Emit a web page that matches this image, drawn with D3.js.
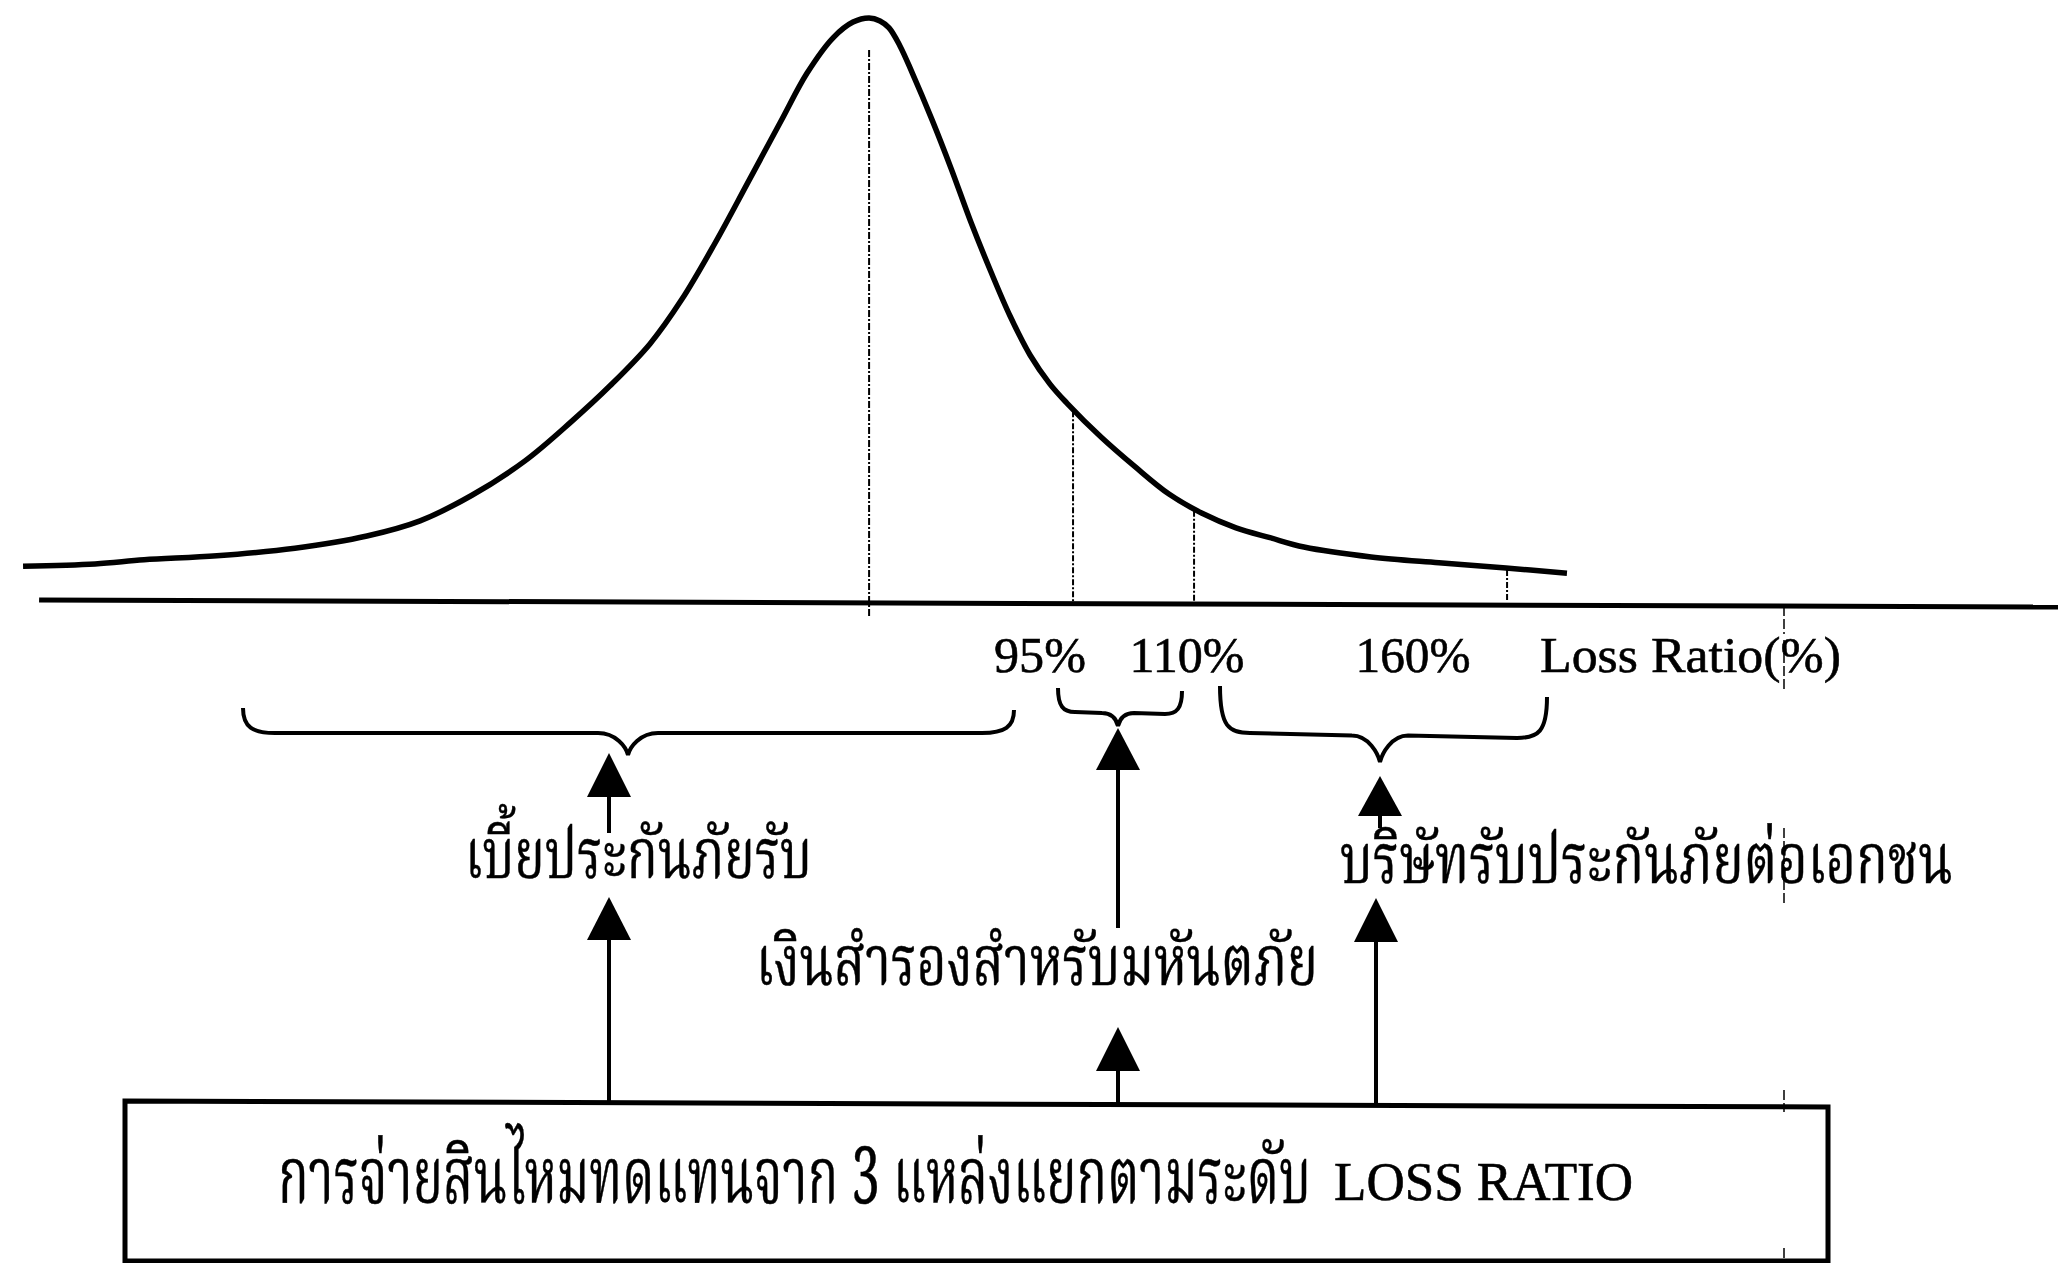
<!DOCTYPE html>
<html>
<head>
<meta charset="utf-8">
<script src="https://cdn.jsdelivr.net/npm/d3@7"></script>
<style>
  html, body { margin: 0; padding: 0; background: #ffffff; }
  svg { display: block; }
</style>
</head>
<body>
<svg id="chart" width="2058" height="1263"></svg>
<script>
// ---------------- DATA ----------------
// Density curve: position along the loss-ratio axis (0-100 schematic units) and relative density (peak = 1)
const curvePos = [1.12, 4.62, 7.00, 10.54, 14.33, 17.83, 20.41, 22.93, 25.51, 27.75, 29.64, 31.58, 33.14, 34.74, 36.35, 37.95, 39.21, 40.48, 41.45, 42.23,
                  42.76, 43.20, 43.73, 44.31, 45.29, 46.21, 47.18, 48.15, 49.08, 50.05, 51.02, 51.85, 53.50, 55.15, 56.80, 58.41, 60.06, 61.71, 63.36, 66.62, 69.92, 73.18, 76.14];
const curveDensity = [0.058, 0.062, 0.069, 0.076, 0.089, 0.110, 0.136, 0.180, 0.239, 0.306, 0.368, 0.440, 0.517, 0.613, 0.718, 0.823, 0.905, 0.966, 0.993, 1.000,
                      0.995, 0.983, 0.952, 0.907, 0.825, 0.742, 0.649, 0.564, 0.488, 0.421, 0.371, 0.338, 0.280, 0.229, 0.182, 0.149, 0.124, 0.107, 0.091, 0.074, 0.064, 0.055, 0.046];

// Threshold markers (loss ratio levels) and the mode of the distribution
const markerLabels = ["95%", "110%", "160%"];
const markerPos = [52.14, 58.02, 73.23];
const peakPos = 42.23;
const axisTitle = "Loss Ratio(%)";

// Axis baseline (position, level) - the scanned baseline sags slightly to the right
const axisPos = [1.9, 100];
const axisLevel = [0, -0.012];

// Funding sources (one per loss-ratio band)
const sourceLabels = ["เบี้ยประกันภัยรับ", "เงินสำรองสำหรับมหันตภัย", "บริษัทรับประกันภัยต่อเอกชน"];
const boxTitleThai = "การจ่ายสินไหมทดแทนจาก 3 แหล่งแยกตามระดับ";
const boxTitleLatin = "LOSS RATIO";

// ---------------- LAYOUT ----------------
const W = 2058, H = 1263;
const svg = d3.select("#chart");
const x = d3.scaleLinear().domain([0, 100]).range([0, W]);
const y = d3.scaleLinear().domain([0, 1]).range([600, 18]);

// pick an installed Thai font (looped / serif styles first, like the original)
function pickFont(cands) {
  const ctx = document.createElement("canvas").getContext("2d");
  const sample = "การจ่ายสินไหม abcXYZ 0123";
  for (const f of cands) {
    for (const fb of ["monospace", "serif"]) {
      ctx.font = `60px ${fb}`; const a = ctx.measureText(sample).width;
      ctx.font = `60px '${f}', ${fb}`; const b = ctx.measureText(sample).width;
      if (Math.abs(a - b) > 0.5) return f;
    }
  }
  return "sans-serif";
}
const thaiPick = pickFont(["Noto Serif Thai", "Norasi", "Kinnari", "Noto Sans Thai Looped", "Laksaman", "TH Sarabun New", "Loma", "Garuda", "Noto Sans Thai"]);
const thaiFont = `'${thaiPick}', 'Noto Sans Thai', sans-serif`;
const serifFont = "'Liberation Serif', 'Times New Roman', serif";

const layout = {
  markerLabelCenters: [1040, 1187, 1413],
  markerLabelWidths: [92, 115, 115],
  axisTitleStart: 1540, axisTitleWidth: 301,
  labelBaseline: 672,
  sourceText: [ {x0: 465, x1: 812, base: 878}, {x0: 756, x1: 1318, base: 985}, {x0: 1340, x1: 1953, base: 883} ],
  braces: [
    {x0: 243, x1: 1014, xc: 628, yT0: 708, yT1: 710, yH0: 733, yH1: 733, yP: 755, r: 32, c: 30},
    {x0: 1058, x1: 1182, xc: 1118, yT0: 688, yT1: 691, yH0: 712, yH1: 714, yP: 726, r: 17, c: 16},
    {x0: 1220, x1: 1547, xc: 1380, yT0: 686, yT1: 697, yH0: 733, yH1: 738, yP: 762, r: 30, c: 28}
  ],
  arrows: [
    {x: 609, apex: 753, base: 797, tail: 833},
    {x: 609, apex: 897, base: 940, tail: 1102},
    {x: 1118, apex: 728, base: 770, tail: 928},
    {x: 1118, apex: 1027, base: 1071, tail: 1103},
    {x: 1380, apex: 776, base: 816, tail: 828},
    {x: 1376, apex: 898, base: 942, tail: 1105}
  ],
  headW: 44,
  box: {x0: 125, x1: 1828, yTopL: 1101, yTopR: 1107, yBot: 1261},
  boxThai: {x0: 278, x1: 1311, base: 1203},
  boxLatin: {x0: 1334, x1: 1633, base: 1200},
  foldX: 1784,
  foldSegs: [[606, 634], [640, 690], [828, 904], [1090, 1112], [1248, 1263]]
};

// ---------------- AXIS BASELINE ----------------
const axisData = axisPos.map((p, i) => [p, axisLevel[i]]);
svg.append("path")
  .datum(axisData)
  .attr("d", d3.line().x(d => x(d[0])).y(d => y(d[1])))
  .attr("fill", "none").attr("stroke", "#000").attr("stroke-width", 5);

// ---------------- DENSITY CURVE ----------------
const curveData = curvePos.map((p, i) => [p, curveDensity[i]]);
svg.append("path")
  .datum(curveData)
  .attr("d", d3.line().x(d => x(d[0])).y(d => y(d[1])).curve(d3.curveCatmullRom.alpha(0.5)))
  .attr("fill", "none").attr("stroke", "#000").attr("stroke-width", 5.5)
  .attr("stroke-linejoin", "round").attr("stroke-linecap", "butt");

function densityAt(p) {
  const i = d3.bisectLeft(curvePos, p);
  if (i <= 0) return curveDensity[0];
  if (i >= curvePos.length) return curveDensity[curvePos.length - 1];
  const t = (p - curvePos[i - 1]) / (curvePos[i] - curvePos[i - 1]);
  return curveDensity[i - 1] + t * (curveDensity[i] - curveDensity[i - 1]);
}

// ---------------- DOTTED DROP LINES ----------------
svg.append("line")
  .attr("x1", x(peakPos)).attr("x2", x(peakPos))
  .attr("y1", y(densityAt(peakPos)) + 32).attr("y2", y(0) + 18)
  .attr("stroke", "#000").attr("stroke-width", 2).attr("stroke-dasharray", "7,2,2,2");

svg.selectAll("line.marker")
  .data(markerPos)
  .enter().append("line").attr("class", "marker")
  .attr("x1", d => x(d)).attr("x2", d => x(d))
  .attr("y1", d => y(densityAt(d)) + 2).attr("y2", d => y(0) + 2)
  .attr("stroke", "#000").attr("stroke-width", 2).attr("stroke-dasharray", "6,2,2,2");

// ---------------- TEXT HELPER (fit text to a measured width) ----------------
function fitText(sel, str, x0, x1, base, family, size, strokeW) {
  const t = sel.append("text")
    .style("font-family", family).style("font-size", size + "px")
    .attr("fill", "#000")
    .text(str);
  if (strokeW) t.attr("stroke", "#000").attr("stroke-width", strokeW);
  const len = t.node().getComputedTextLength();
  const sx = (x1 - x0) / len;
  t.attr("transform", `translate(${x0},${base}) scale(${sx},1)`);
  return t;
}

// ---------------- AXIS LABELS ----------------
markerLabels.forEach((d, i) => {
  const c = layout.markerLabelCenters[i], w = layout.markerLabelWidths[i];
  fitText(svg, d, c - w / 2, c + w / 2, layout.labelBaseline, serifFont, 50, 0.6);
});
fitText(svg, axisTitle, layout.axisTitleStart, layout.axisTitleStart + layout.axisTitleWidth,
        layout.labelBaseline, serifFont, 50, 0.6);

// ---------------- BRACES ----------------
function bracePath(b) {
  const yHm = (b.yH0 + b.yH1) / 2;
  const p = d3.path();
  p.moveTo(b.x0, b.yT0);
  p.bezierCurveTo(b.x0, b.yH0 - 6, b.x0 + b.r * 0.3, b.yH0, b.x0 + b.r, b.yH0);
  p.lineTo(b.xc - b.c, yHm);
  p.bezierCurveTo(b.xc - b.c * 0.4, yHm, b.xc - 2, b.yP - 8, b.xc, b.yP);
  p.bezierCurveTo(b.xc + 2, b.yP - 8, b.xc + b.c * 0.4, yHm, b.xc + b.c, yHm);
  p.lineTo(b.x1 - b.r, b.yH1);
  p.bezierCurveTo(b.x1 - b.r * 0.3, b.yH1, b.x1, b.yH1 - 6, b.x1, b.yT1);
  return p.toString();
}
svg.selectAll("path.brace")
  .data(layout.braces)
  .enter().append("path").attr("class", "brace")
  .attr("d", bracePath)
  .attr("fill", "none").attr("stroke", "#000").attr("stroke-width", 4);

// ---------------- ARROWS ----------------
const arrows = svg.selectAll("g.arrow").data(layout.arrows).enter().append("g").attr("class", "arrow");
arrows.append("line")
  .attr("x1", d => d.x).attr("x2", d => d.x)
  .attr("y1", d => d.base - 2).attr("y2", d => d.tail)
  .attr("stroke", "#000").attr("stroke-width", 4);
arrows.append("path")
  .attr("d", d => `M${d.x},${d.apex} L${d.x + layout.headW / 2},${d.base} L${d.x - layout.headW / 2},${d.base} Z`)
  .attr("fill", "#000");

// ---------------- SOURCE LABELS ----------------
sourceLabels.forEach((d, i) => {
  const s = layout.sourceText[i];
  fitText(svg, d, s.x0, s.x1, s.base, thaiFont, 70, 0.5);
});

// ---------------- BOX ----------------
const bx = layout.box;
svg.append("path")
  .attr("d", `M${bx.x0},${bx.yTopL} L${bx.x1},${bx.yTopR} L${bx.x1},${bx.yBot} L${bx.x0},${bx.yBot} Z`)
  .attr("fill", "none").attr("stroke", "#000").attr("stroke-width", 5);

fitText(svg, boxTitleThai, layout.boxThai.x0, layout.boxThai.x1, layout.boxThai.base, thaiFont, 78, 0.5);
fitText(svg, boxTitleLatin, layout.boxLatin.x0, layout.boxLatin.x1, layout.boxLatin.base, serifFont, 54, 0.6);

// ---------------- SCAN FOLD MARK ----------------
svg.selectAll("line.fold")
  .data(layout.foldSegs)
  .enter().append("line").attr("class", "fold")
  .attr("x1", layout.foldX).attr("x2", layout.foldX)
  .attr("y1", d => d[0]).attr("y2", d => d[1])
  .attr("stroke", "#000").attr("stroke-width", 1.5).attr("stroke-dasharray", "10,3");
</script>
</body>
</html>
